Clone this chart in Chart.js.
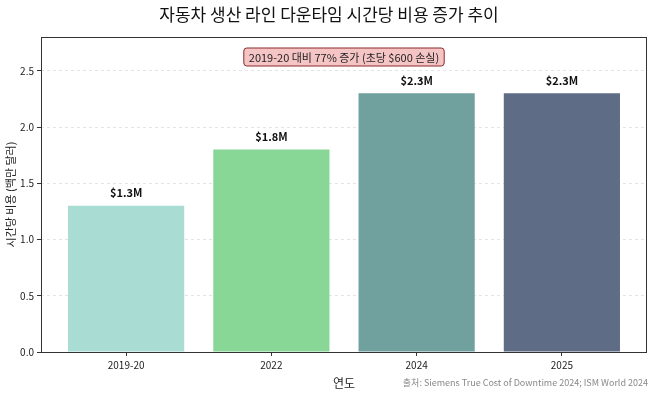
<!DOCTYPE html>
<html>
<head>
<meta charset="utf-8">
<script src="https://cdn.jsdelivr.net/npm/chart.js@4"></script>
<style>
  html, body { margin: 0; padding: 0; background: #fff; }
  #wrap { width: 658px; height: 395px; position: relative; }
</style>
</head>
<body>
<div id="wrap"><canvas id="graph"></canvas></div>
<script>
const categories = ['2019-20', '2022', '2024', '2025'];
const costs = [1.3, 1.8, 2.3, 2.3];
const valueLabels = ['$1.3M', '$1.8M', '$2.3M', '$2.3M'];
const barColors = ['#a9ddd3', '#88d796', '#70a19f', '#5e6d85'];
const yTicks = [0, 0.5, 1.0, 1.5, 2.0, 2.5];

const titleText = '자동차 생산 라인 다운타임 시간당 비용 증가 추이';
const noteText = '2019-20 대비 77% 증가 (초당 $600 손실)';
const sourceText = '출처: Siemens True Cost of Downtime 2024; ISM World 2024';

const KR = "'Noto Sans CJK KR', 'Noto Sans', sans-serif";
Chart.defaults.font.family = KR;
Chart.defaults.color = '#222';

const extras = {
  id: 'extras',
  afterDraw(chart) {
    const c = chart.ctx;
    const a = chart.chartArea;
    const x = chart.scales.x, y = chart.scales.y;
    c.save();
    // frame
    c.strokeStyle = '#333';
    c.lineWidth = 1;
    c.strokeRect(a.left + 0.5, a.top + 0.5, a.right - a.left - 1, a.bottom - a.top);

    // value labels
    c.fillStyle = '#111';
    c.font = 'bold 11px ' + KR;
    c.textAlign = 'center';
    c.textBaseline = 'bottom';
    costs.forEach((v, i) => {
      c.fillText(valueLabels[i], x.getPixelForValue(i), y.getPixelForValue(v) - 7);
    });

    // title
    c.font = '17px ' + KR;
    c.textBaseline = 'middle';
    c.fillStyle = '#111';
    c.fillText(titleText, 329, 15);

    // note box
    c.font = '11px ' + KR;
    const cx = (a.left + a.right) / 2, cy = 57;
    const w = c.measureText(noteText).width + 10, h = 18;
    c.beginPath();
    c.roundRect(cx - w / 2, cy - h / 2, w, h, 3);
    c.fillStyle = '#f5c4c4';
    c.fill();
    c.strokeStyle = '#8b2a2a';
    c.stroke();
    c.fillStyle = '#222';
    c.fillText(noteText, cx, cy + 0.5);

    // source
    c.font = '9px ' + KR;
    c.fillStyle = '#888';
    c.textAlign = 'right';
    c.fillText(sourceText, 648, 383);
    c.restore();
  }
};

new Chart(document.getElementById('graph'), {
  type: 'bar',
  data: {
    datasets: [{
      data: costs.map((v, i) => ({ x: i, y: v })),
      backgroundColor: barColors,
      barPercentage: 0.8,
      categoryPercentage: 1.0,
      borderWidth: 0
    }]
  },
  options: {
    responsive: true,
    maintainAspectRatio: false,
    animation: false,
    layout: { padding: { top: 37, right: 11, left: 0, bottom: 0 } },
    plugins: { legend: { display: false }, tooltip: { enabled: false } },
    scales: {
      x: {
        type: 'linear',
        offset: false,
        min: -0.586,
        max: 3.586,
        afterBuildTicks: s => { s.ticks = categories.map((_, i) => ({ value: i })); },
        afterFit: s => { s.height = 43; },
        ticks: {
          callback: (v) => categories[v],
          font: { size: 10 },
          color: '#222',
          padding: 3
        },
        grid: { offset: false, drawOnChartArea: false, drawTicks: true, tickLength: 4, tickColor: '#333' },
        border: { display: false },
        title: { display: true, text: '연도', font: { size: 12 }, color: '#222', padding: { top: 0 } }
      },
      y: {
        min: 0,
        max: 2.8,
        afterBuildTicks: s => { s.ticks = yTicks.map(v => ({ value: v })); },
        afterFit: s => { s.width = 41; },
        ticks: {
          callback: v => v.toFixed(1),
          font: { size: 10 },
          color: '#222',
          padding: 3
        },
        grid: { color: '#e4e4e4', tickColor: '#333', tickLength: 4, tickBorderDash: [] },
        border: { display: false, dash: [3, 3] },
        title: { display: true, text: '시간당 비용 (백만 달러)', font: { size: 11 }, color: '#222', padding: { bottom: 0 } }
      }
    }
  },
  plugins: [extras]
});
</script>
</body>
</html>
